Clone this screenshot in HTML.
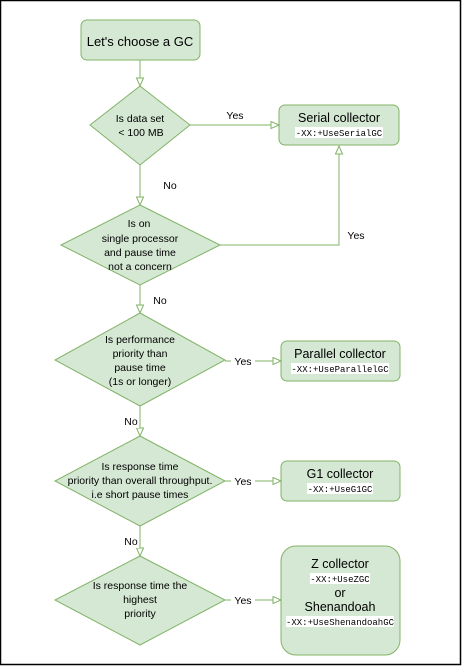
<!DOCTYPE html>
<html><head><style>
html,body{margin:0;padding:0;background:#fff;}
svg{display:block;}
text{font-family:"Liberation Sans",sans-serif;font-size:10.5px;fill:#000;}
.m{font-family:"Liberation Mono",monospace;font-size:9px;}
</style></head><body>
<svg width="462" height="667" viewBox="0 0 462 667" xmlns="http://www.w3.org/2000/svg">
<defs>
<marker id="a" markerWidth="10" markerHeight="10" refX="9" refY="4" orient="auto" markerUnits="userSpaceOnUse">
<path d="M1,0.5 L9,4 L1,7.5 Z" fill="#fff" stroke="#82b366" stroke-width="1"/>
</marker>
</defs>
<rect x="0.5" y="0.5" width="460" height="664" fill="#fff" stroke="#000" stroke-width="1.5"/>
<g fill="#d5e8d4" stroke="#82b366" stroke-width="1">
<rect x="81" y="20" width="119" height="40" rx="6"/>
<polygon points="140,86 190,125 140,165 90,125"/>
<rect x="279" y="105" width="120" height="40" rx="6"/>
<polygon points="140,205 220,245 140,285 61,245"/>
<polygon points="140,313 225,360 140,406 55,360"/>
<rect x="281" y="341" width="119" height="40" rx="6"/>
<polygon points="140,436 225,481 140,526 55,481"/>
<rect x="281" y="461" width="119" height="40" rx="6"/>
<polygon points="140,556 225,600 140,645 55,600"/>
<rect x="281" y="546" width="119" height="109" rx="15"/>
</g>
<g stroke="#82b366" stroke-width="1" fill="none">
<line x1="140" y1="60" x2="140" y2="86" marker-end="url(#a)"/>
<line x1="190" y1="125" x2="279" y2="125" marker-end="url(#a)"/>
<line x1="140" y1="165" x2="140" y2="205" marker-end="url(#a)"/>
<polyline points="220,245 339,245 339,146" marker-end="url(#a)"/>
<line x1="140" y1="285" x2="140" y2="313" marker-end="url(#a)"/>
<line x1="225" y1="361" x2="281" y2="361" marker-end="url(#a)"/>
<line x1="140" y1="406" x2="140" y2="436" marker-end="url(#a)"/>
<line x1="225" y1="481" x2="281" y2="481" marker-end="url(#a)"/>
<line x1="140" y1="526" x2="140" y2="556" marker-end="url(#a)"/>
<line x1="225" y1="600" x2="281" y2="600" marker-end="url(#a)"/>
</g>
<g fill="#fff">
<rect x="231" y="354" width="24" height="14"/>
<rect x="231" y="474" width="24" height="14"/>
<rect x="231" y="593" width="24" height="14"/>
<rect x="124" y="414" width="15" height="14"/>
<rect x="124" y="534" width="15" height="14"/>
<rect x="295" y="127" width="88" height="11"/>
<rect x="291" y="363" width="98" height="11"/>
<rect x="307" y="483" width="66" height="11"/>
<rect x="310" y="573" width="60" height="11"/>
<rect x="286" y="616" width="108" height="11"/>
</g>
<g text-anchor="middle">
<text x="140" y="46" style="font-size:13px">Let's choose a GC</text>
<text x="140" y="122">Is data set</text>
<text x="141" y="136">&lt; 100 MB</text>
<text x="235" y="119">Yes</text>
<text x="339" y="122" style="font-size:12.5px">Serial collector</text>
<text x="339" y="136" class="m">-XX:+UseSerialGC</text>
<text x="170" y="189">No</text>
<text x="139" y="227">Is on</text>
<text x="140" y="242">single processor</text>
<text x="140" y="256">and pause time</text>
<text x="140" y="270">not a concern</text>
<text x="356" y="239">Yes</text>
<text x="160" y="304">No</text>
<text x="140" y="343">Is performance</text>
<text x="140" y="357">priority than</text>
<text x="140" y="371">pause time</text>
<text x="140" y="385">(1s or longer)</text>
<text x="243" y="365">Yes</text>
<text x="340" y="358" style="font-size:12.5px">Parallel collector</text>
<text x="340" y="372" class="m">-XX:+UseParallelGC</text>
<text x="131" y="425">No</text>
<text x="140" y="470">Is response time</text>
<text x="140" y="484">priority than overall throughput.</text>
<text x="140" y="498">i.e short pause times</text>
<text x="243" y="485">Yes</text>
<text x="340" y="478" style="font-size:12.5px">G1 collector</text>
<text x="340" y="492" class="m">-XX:+UseG1GC</text>
<text x="131" y="545">No</text>
<text x="140" y="589">Is response time the</text>
<text x="140" y="603">highest</text>
<text x="140" y="617">priority</text>
<text x="243" y="604">Yes</text>
<text x="340" y="568" style="font-size:12.5px">Z collector</text>
<text x="340" y="582" class="m">-XX:+UseZGC</text>
<text x="340" y="597" style="font-size:12.5px">or</text>
<text x="340" y="611" style="font-size:12.5px">Shenandoah</text>
<text x="340" y="625" class="m">-XX:+UseShenandoahGC</text>
</g>
</svg>
</body></html>
